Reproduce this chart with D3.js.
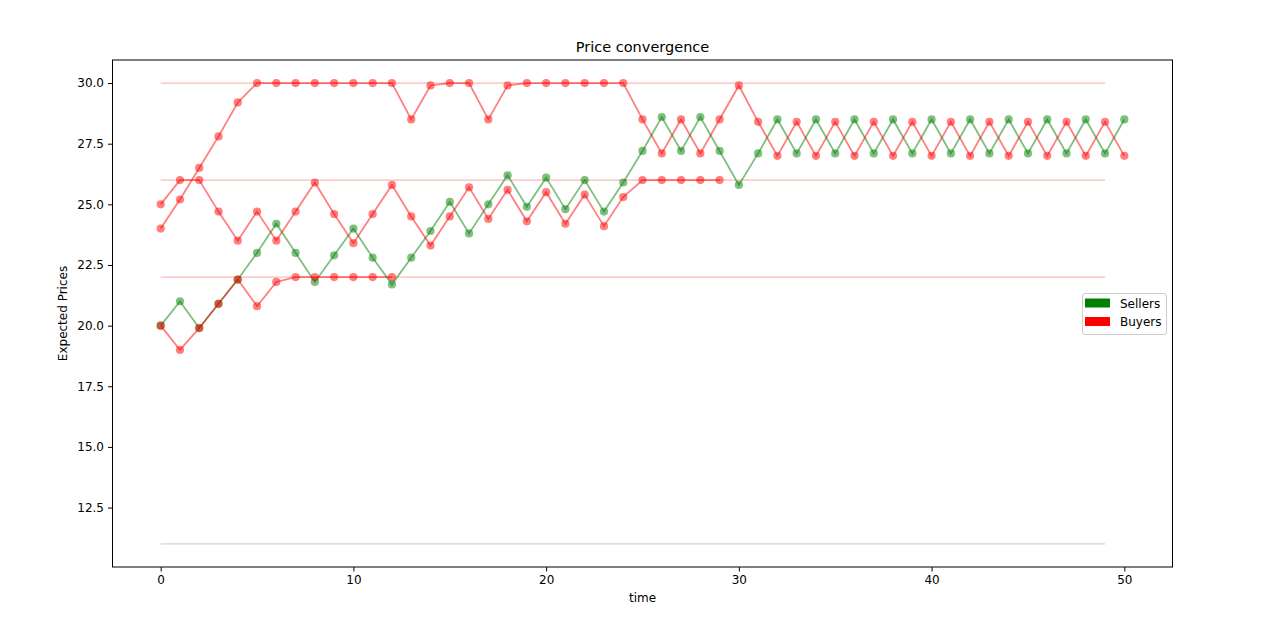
<!DOCTYPE html>
<html lang="en">
<head>
    <meta charset="UTF-8">
    <title>Price convergence</title>
    <style>
        body { margin: 0; background: #fff; }
        svg text { font-family: "DejaVu Sans", sans-serif; fill: #000; }
    </style>
</head>
<body>
<svg width="1280" height="618"></svg>

<script src="https://d3js.org/d3.v7.min.js"></script>
<script>
    // expected prices per time step (index = time)
    var sellers = [20, 21, 19.9, 20.9, 21.9, 23.0, 24.2, 23.0, 21.8, 22.9, 24.0, 22.8, 21.7, 22.8, 23.9,
        25.1, 23.8, 25.0, 26.2, 24.9, 26.1, 24.8, 26.0, 24.7, 25.9, 27.2, 28.6, 27.2, 28.6, 27.2, 25.8,
        27.1, 28.5, 27.1, 28.5, 27.1, 28.5, 27.1, 28.5, 27.1, 28.5, 27.1, 28.5, 27.1, 28.5, 27.1, 28.5,
        27.1, 28.5, 27.1, 28.5];

    var buyerHigh = [24, 25.2, 26.5, 27.8, 29.2, 30, 30, 30, 30, 30, 30, 30, 30, 28.5, 29.9, 30, 30,
        28.5, 29.9, 30, 30, 30, 30, 30, 30, 28.5, 27.1, 28.5, 27.1, 28.5, 29.9,
        28.4, 27.0, 28.4, 27.0, 28.4, 27.0, 28.4, 27.0, 28.4, 27.0, 28.4, 27.0, 28.4, 27.0, 28.4, 27.0,
        28.4, 27.0, 28.4, 27.0];

    var buyerMid = [25, 26, 26, 24.7, 23.5, 24.7, 23.5, 24.7, 25.9, 24.6, 23.4, 24.6, 25.8, 24.5, 23.3,
        24.5, 25.7, 24.4, 25.6, 24.3, 25.5, 24.2, 25.4, 24.1, 25.3, 26, 26, 26, 26, 26];

    var buyerLow = [20, 19, 19.9, 20.9, 21.9, 20.8, 21.8, 22, 22, 22, 22, 22, 22];

    // reservation prices (horizontal lines from t=0 to t=49)
    var buyerLimits = [30, 26, 22];
    var sellerCosts = [11];
    var limitSpan = [0, 49];

    var yTicks = [12.5, 15.0, 17.5, 20.0, 22.5, 25.0, 27.5, 30.0];
    var xTicks = [0, 10, 20, 30, 40, 50];

    var legendItems = [
        { label: "Sellers", color: "#008000" },
        { label: "Buyers", color: "#ff0000" }
    ];

    var svg = d3.select("svg");
    var plotLeft = 112.5, plotRight = 1172.5, plotTop = 60, plotBottom = 567;

    var x = d3.scaleLinear().domain([-2.5, 52.5]).range([plotLeft, plotRight]);
    var y = d3.scaleLinear().domain([10.05, 30.95]).range([plotBottom, plotTop]);

    // limit lines
    buyerLimits.forEach(function (v) {
        svg.append("line")
            .attr("x1", x(limitSpan[0])).attr("x2", x(limitSpan[1]))
            .attr("y1", y(v)).attr("y2", y(v))
            .attr("stroke", "#ff0000").attr("stroke-opacity", 0.2)
            .attr("stroke-width", 1.8);
    });
    sellerCosts.forEach(function (v) {
        svg.append("line")
            .attr("x1", x(limitSpan[0])).attr("x2", x(limitSpan[1]))
            .attr("y1", y(v)).attr("y2", y(v))
            .attr("stroke", "#557755").attr("stroke-opacity", 0.22)
            .attr("stroke-width", 1.8);
    });

    var line = d3.line()
        .x(function (d, i) { return x(i); })
        .y(function (d) { return y(d); });

    function drawSeries(values, color) {
        var g = svg.append("g");
        g.append("path")
            .attr("d", line(values))
            .attr("fill", "none")
            .attr("stroke", color)
            .attr("stroke-opacity", 0.5)
            .attr("stroke-width", 1.8);
        g.selectAll("circle")
            .data(values)
            .enter()
            .append("circle")
            .attr("cx", function (d, i) { return x(i); })
            .attr("cy", function (d) { return y(d); })
            .attr("r", 4.1)
            .attr("fill", color)
            .attr("fill-opacity", 0.5);
    }

    drawSeries(sellers, "#008000");
    drawSeries(buyerHigh, "#ff0000");
    drawSeries(buyerMid, "#ff0000");
    drawSeries(buyerLow, "#ff0000");

    // axes
    var xAxis = d3.axisBottom(x).tickValues(xTicks).tickSize(4.5).tickPadding(4).tickFormat(d3.format("d"));
    var yAxis = d3.axisLeft(y).tickValues(yTicks).tickSize(4.5).tickPadding(4).tickFormat(d3.format(".1f"));

    var gx = svg.append("g").attr("transform", "translate(0," + plotBottom + ")").call(xAxis);
    var gy = svg.append("g").attr("transform", "translate(" + plotLeft + ",0)").call(yAxis);
    [gx, gy].forEach(function (g) {
        g.select(".domain").remove();
        g.selectAll("text").style("font-size", "12px").attr("fill", "#000");
        g.selectAll("line").attr("stroke", "#000");
    });

    // frame
    svg.append("rect")
        .attr("x", plotLeft).attr("y", plotTop)
        .attr("width", plotRight - plotLeft).attr("height", plotBottom - plotTop)
        .attr("fill", "none").attr("stroke", "#000").attr("stroke-width", 1);

    // labels
    svg.append("text")
        .attr("x", (plotLeft + plotRight) / 2).attr("y", 52)
        .attr("text-anchor", "middle")
        .style("font-size", "14.5px")
        .text("Price convergence");

    svg.append("text")
        .attr("x", (plotLeft + plotRight) / 2).attr("y", 602)
        .attr("text-anchor", "middle")
        .style("font-size", "12px")
        .text("time");

    svg.append("text")
        .attr("transform", "translate(67," + (plotTop + plotBottom) / 2 + ") rotate(-90)")
        .attr("text-anchor", "middle")
        .style("font-size", "12px")
        .text("Expected Prices");

    // legend
    var legend = svg.append("g").attr("transform", "translate(1082.5,293.5)");
    legend.append("rect")
        .attr("width", 84).attr("height", 41)
        .attr("rx", 2.5)
        .attr("fill", "#fff").attr("fill-opacity", 0.8)
        .attr("stroke", "#cccccc").attr("stroke-width", 1);

    var li = legend.selectAll(".legend-item")
        .data(legendItems)
        .enter()
        .append("g")
        .attr("class", "legend-item")
        .attr("transform", function (d, i) { return "translate(2.5," + (5 + i * 18.5) + ")"; });

    li.append("rect")
        .attr("width", 25).attr("height", 9)
        .attr("fill", function (d) { return d.color; });

    li.append("text")
        .attr("x", 35).attr("y", 9)
        .style("font-size", "12px")
        .text(function (d) { return d.label; });
</script>
</body>
</html>
